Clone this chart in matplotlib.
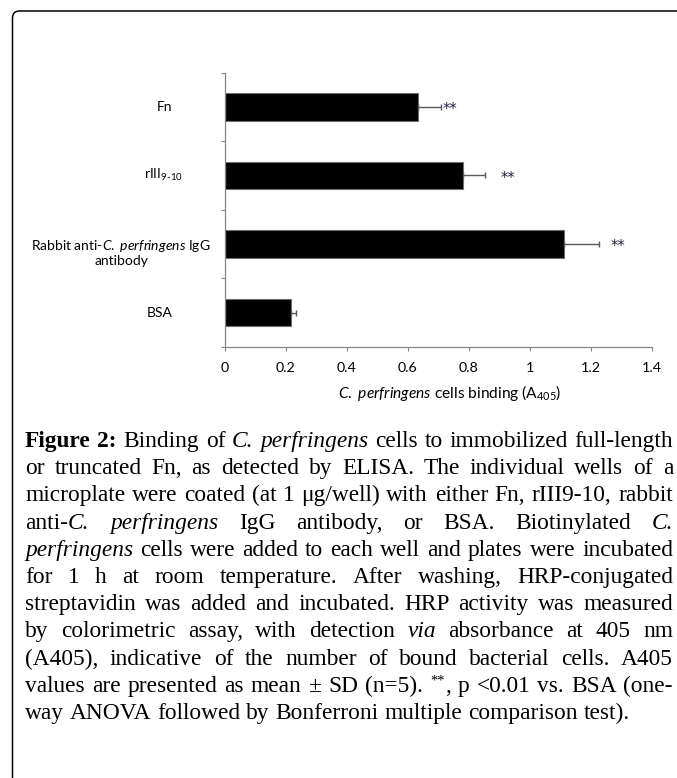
#!/usr/bin/env python3
"""Horizontal bar chart of C. perfringens binding (A405) with a justified figure caption."""

import re

import matplotlib

matplotlib.use("Agg")
import matplotlib.pyplot as plt  # noqa: E402
from matplotlib.patches import FancyBboxPatch  # noqa: E402
from matplotlib.transforms import IdentityTransform, blended_transform_factory  # noqa: E402

# ---- data -------------------------------------------------------------------
CATEGORIES = [
    "Fn",
    r"rIII$_{\mathrm{9}\text{-}\mathrm{10}}$",
    "Rabbit anti-$\\it{C.\\ perfringens}$ IgG\nantibody",
    "BSA",
]
BINDING = [0.633, 0.780, 1.111, 0.215]
SD = [0.075, 0.073, 0.115, 0.017]
STAR_LABELS = ["**", "**", "**", ""]
STAR_X = [0.737, 0.928, 1.289, 0.0]

X_TICKS = [0, 0.2, 0.4, 0.6, 0.8, 1.0, 1.2, 1.4]
X_TICK_LABELS = ["0", "0.2", "0.4", "0.6", "0.8", "1", "1.2", "1.4"]
X_LABEL = r"$\it{C.\ perfringens}$ cells binding (A$_{\mathrm{405}}$)"

CAPTION_LINES = [
    "<b>Figure 2:</b> Binding of <i>C. perfringens</i> cells to immobilized full-length",
    "or truncated Fn, as detected by ELISA. The individual wells of a",
    "microplate were coated (at 1 \u03bcg/well) with either Fn, rIII9-10, rabbit",
    "anti-<i>C. perfringens</i> IgG antibody, or BSA. Biotinylated <i>C.</i>",
    "<i>perfringens</i> cells were added to each well and plates were incubated",
    "for 1 h at room temperature. After washing, HRP-conjugated",
    "streptavidin was added and incubated. HRP activity was measured",
    "by colorimetric assay, with detection <i>via</i> absorbance at 405 nm",
    "(A405), indicative of the number of bound bacterial cells. A405",
    "values are presented as mean \u00b1 SD (n=5). <sup>**</sup>, p <0.01 vs. BSA (one-",
    "way ANOVA followed by Bonferroni multiple comparison test).",
]

# ---- layout (pixels, origin top-left) -----------------------------------------
FIG_W, FIG_H = 677, 778
DPI = 100
AX_LEFT, AX_TOP, AX_RIGHT, AX_BOTTOM = 225, 72.5, 652, 347
LABEL_CENTERS_PX = [164, 163, 121, 160]
CAPTION_LEFT, CAPTION_RIGHT = 25, 673
CAPTION_FIRST_BASELINE = 447
CAPTION_LINE_STEP = 27.2
CAPTION_LAST_WIDTH = 605

AXIS_GRAY = "#868686"
SANS = "Lato"
SERIF = "Liberation Serif"


def px_rect(left, top, right, bottom):
    return [left / FIG_W, 1 - bottom / FIG_H, (right - left) / FIG_W, (bottom - top) / FIG_H]


def parse_words(line):
    """Split a marked-up line into words; each word is a list of (text, style)."""
    words, current, buf = [], [], ""
    style = "normal"
    for token in re.split(r"(<[^>]+>)", line):
        if token.startswith("<"):
            if buf:
                current.append((buf, style))
                buf = ""
            style = "normal" if token.startswith("</") else token[1:-1]
            continue
        for ch in token:
            if ch == " ":
                if buf:
                    current.append((buf, style))
                    buf = ""
                if current:
                    words.append(current)
                    current = []
            else:
                buf += ch
    if buf:
        current.append((buf, style))
    if current:
        words.append(current)
    return words


def seg_kwargs(style, size):
    kw = dict(family=SERIF, fontsize=size, color="black", va="baseline", ha="left")
    if style == "b":
        kw["fontweight"] = "bold"
    elif style == "i":
        kw["fontstyle"] = "italic"
    elif style == "sup":
        kw["fontsize"] = size * 0.62
    return kw


def draw_caption(fig):
    renderer = fig.canvas.get_renderer()
    trial = 14.0
    lines = []
    for i, line in enumerate(CAPTION_LINES):
        y = FIG_H - (CAPTION_FIRST_BASELINE + i * CAPTION_LINE_STEP)
        words = []
        for word in parse_words(line):
            segs = []
            for text, style in word:
                t = fig.text(0, y, text, transform=IdentityTransform(), **seg_kwargs(style, trial))
                segs.append((t, style))
            words.append(segs)
        lines.append((y, words))

    def measure(words):
        return [[t.get_window_extent(renderer).width for t, _ in segs] for segs in words]

    probe = fig.text(0, 0, "x x", transform=IdentityTransform(), family=SERIF, fontsize=trial)
    probe2 = fig.text(0, 0, "xx", transform=IdentityTransform(), family=SERIF, fontsize=trial)
    space = probe.get_window_extent(renderer).width - probe2.get_window_extent(renderer).width
    probe.remove()
    probe2.remove()

    last_words = lines[-1][1]
    natural = sum(sum(w) for w in measure(last_words)) + space * (len(last_words) - 1)
    scale = CAPTION_LAST_WIDTH / natural
    size = trial * scale
    space *= scale
    for _, words in lines:
        for segs in words:
            for t, style in segs:
                t.set_fontsize(size * 0.62 if style == "sup" else size)

    for i, (y, words) in enumerate(lines):
        widths = measure(words)
        total = sum(sum(w) for w in widths)
        if i == len(lines) - 1 or len(words) < 2:
            gap = space
        else:
            gap = (CAPTION_RIGHT - CAPTION_LEFT - total) / (len(words) - 1)
        x = CAPTION_LEFT
        for segs, wlist in zip(words, widths):
            for (t, style), w in zip(segs, wlist):
                t.set_x(x)
                if style == "sup":
                    t.set_y(y + size * 0.45)
                x += w
            x += gap


def main():
    plt.rcParams["mathtext.fontset"] = "custom"
    plt.rcParams["mathtext.rm"] = SANS
    plt.rcParams["mathtext.it"] = f"{SANS}:italic"
    plt.rcParams["mathtext.bf"] = f"{SANS}:bold"
    plt.rcParams["mathtext.default"] = "regular"
    plt.rcParams["font.family"] = SANS

    fig = plt.figure(figsize=(FIG_W / DPI, FIG_H / DPI), dpi=DPI)
    fig.patch.set_facecolor("white")

    border = FancyBboxPatch(
        (12.5, -40), 760, FIG_H - 11 + 40,
        boxstyle="round,pad=0,rounding_size=7",
        transform=IdentityTransform(), fill=False, edgecolor="black", linewidth=1.1,
    )
    fig.add_artist(border)

    ax = fig.add_axes(px_rect(AX_LEFT, AX_TOP, AX_RIGHT, AX_BOTTOM))
    pos = list(range(len(CATEGORIES)))
    ax.barh(
        pos, BINDING, height=0.4, color="black", edgecolor="#6f6f6f", linewidth=0.8,
        xerr=[[0] * len(SD), SD],
        error_kw=dict(ecolor="#595959", elinewidth=1.0, capsize=2.5, capthick=1.0),
    )
    for i, (label, sx) in enumerate(zip(STAR_LABELS, STAR_X)):
        if label:
            ax.text(sx, i + 0.04, label, ha="center", va="center", fontsize=10.5,
                    color="#23233f", family="DejaVu Sans")

    ax.set_xlim(0, 1.4)
    ax.set_ylim(3.5, -0.5)
    ax.set_xticks(X_TICKS)
    ax.set_xticklabels(X_TICK_LABELS, fontsize=10.3)
    ax.set_yticks([-0.5, 0.5, 1.5, 2.5, 3.5])
    ax.set_yticklabels([])
    ax.tick_params(axis="both", direction="out", length=3, width=0.8, color=AXIS_GRAY)
    ax.tick_params(axis="x", pad=8)
    for side in ("top", "right"):
        ax.spines[side].set_visible(False)
    for side in ("left", "bottom"):
        ax.spines[side].set_color(AXIS_GRAY)
        ax.spines[side].set_linewidth(0.9)

    ax.set_xlabel(X_LABEL, fontsize=11.2)
    ax.xaxis.set_label_coords((450 - AX_LEFT) / (AX_RIGHT - AX_LEFT),
                              -(393 - AX_BOTTOM) / (AX_BOTTOM - AX_TOP))
    ax.xaxis.label.set_va("center")

    label_tf = blended_transform_factory(fig.transFigure, ax.transData)
    for i, (label, cx) in enumerate(zip(CATEGORIES, LABEL_CENTERS_PX)):
        n_lines = label.count("\n") + 1
        fig.text(cx / FIG_W, i + 0.13 * (n_lines - 1), label, transform=label_tf,
                 ha="center", va="center", ma="center", fontsize=10, linespacing=1.1)

    draw_caption(fig)
    fig.savefig("out.png", dpi=DPI)
    plt.close(fig)
    return 0


if __name__ == "__main__":
    raise SystemExit(main())
